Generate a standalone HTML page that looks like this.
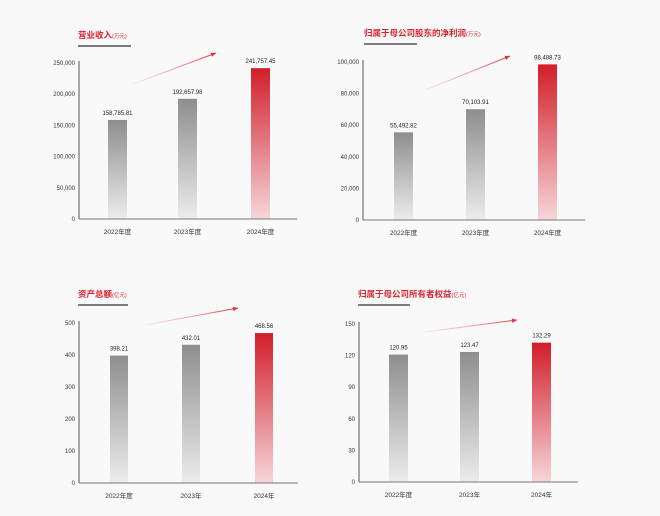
<!DOCTYPE html>
<html><head><meta charset="utf-8">
<style>
html,body{margin:0;padding:0;background:#f9f9f9;}
svg{display:block;font-family:"Liberation Sans","Noto Sans CJK SC",sans-serif;}
</style></head>
<body>
<svg id="c" width="660" height="516" viewBox="0 0 660 516">
<defs>
<linearGradient id="gGrey" x1="0" y1="0" x2="0" y2="1"><stop offset="0" stop-color="#8e8e8e"/><stop offset="1" stop-color="#ececec"/></linearGradient>
<linearGradient id="gRed" x1="0" y1="0" x2="0" y2="1"><stop offset="0" stop-color="#d21e2b"/><stop offset="1" stop-color="#f6d6d9"/></linearGradient>
<linearGradient id="gArrow" x1="0" y1="0" x2="1" y2="0"><stop offset="0" stop-color="#f4c6c9" stop-opacity="0.4"/><stop offset="1" stop-color="#e0303c"/></linearGradient>
</defs>
</svg>
<script>
const revenueValues = [158785.81, 192657.98, 241757.45];
const revenueLabels = ["158,785.81", "192,657.98", "241,757.45"];
const revenueTicks = [0, 50000, 100000, 150000, 200000, 250000];
const revenueTickLabels = ["0", "50,000", "100,000", "150,000", "200,000", "250,000"];
const revenueCats = ["2022年度", "2023年度", "2024年度"];

const profitValues = [55492.82, 70103.91, 98488.73];
const profitLabels = ["55,492.82", "70,103.91", "98,488.73"];
const profitTicks = [0, 20000, 40000, 60000, 80000, 100000];
const profitTickLabels = ["0", "20,000", "40,000", "60,000", "80,000", "100,000"];
const profitCats = ["2022年度", "2023年度", "2024年度"];

const assetValues = [398.21, 432.01, 468.56];
const assetLabels = ["398.21", "432.01", "468.56"];
const assetTicks = [0, 100, 200, 300, 400, 500];
const assetTickLabels = ["0", "100", "200", "300", "400", "500"];
const assetCats = ["2022年度", "2023年", "2024年"];

const equityValues = [120.95, 123.47, 132.29];
const equityLabels = ["120.95", "123.47", "132.29"];
const equityTicks = [0, 30, 60, 90, 120, 150];
const equityTickLabels = ["0", "30", "60", "90", "120", "150"];
const equityCats = ["2022年度", "2023年", "2024年"];

const NS = "http://www.w3.org/2000/svg";
const svg = document.getElementById('c');
function mk(tag, attrs, parent){const e=document.createElementNS(NS,tag);for(const k in attrs)e.setAttribute(k,attrs[k]);(parent||svg).appendChild(e);return e;}

function chart(o){
  const g = mk('g',{});
  
  
  const y = v => o.y0 - (v / o.max) * (o.y0 - o.yTop);
  // title
  const t = mk('text',{x:o.tx,y:o.ty,'font-size':8.5,'font-weight':'bold',fill:'#d9232f'},g);
  
  
  t.textContent = o.title;
  const ts = mk('tspan',{'font-size':5.5,'font-weight':'normal'},t); ts.textContent = o.unit;
  const ul = mk('line',{x1:o.tx,x2:o.tx+o.ulw,y1:o.ty+8,y2:o.ty+8,stroke:'#333','stroke-width':1.3},g);
  
  
  // arrow
  const ar = mk('line',{x1:o.a[0],y1:o.a[1],x2:o.a[2],y2:o.a[3],stroke:'url(#gArrow)','stroke-width':1},g);
  
  
  const ang = Math.atan2(o.a[3]-o.a[1], o.a[2]-o.a[0]);
  const hx=o.a[2],hy=o.a[3],L=5,W=2.2;
  const p = mk('polygon',{points:`${hx},${hy} ${hx-L*Math.cos(ang)+W*Math.sin(ang)},${hy-L*Math.sin(ang)-W*Math.cos(ang)} ${hx-L*Math.cos(ang)-W*Math.sin(ang)},${hy-L*Math.sin(ang)+W*Math.cos(ang)}`,fill:'#e0303c'},g);
  
  
  // ticks
  o.ticks.forEach((tv,i)=>{
    const tl = mk('text',{x:o.ax-4,y:y(tv)+2,'font-size':6,'text-anchor':'end',fill:'#333'},g);
    
    
    tl.textContent = o.tickLabels[i];
  });
  // bars
  o.values.forEach((v,i)=>{
    const bx = o.bx[i];
    const last = i === o.values.length-1;
    const r = mk('rect',{x:bx,y:y(v),width:o.bw,height:o.y0-y(v),fill:last?'url(#gRed)':'url(#gGrey)'},g);
    
    
    const vl = mk('text',{x:bx+o.bw/2,y:y(v)-5,'font-size':6,'text-anchor':'middle',fill:'#222'},g);
    
    
    vl.textContent = o.labels[i];
    const cl = mk('text',{x:bx+o.bw/2,y:o.y0+15,'font-size':6.5,'text-anchor':'middle',fill:'#333'},g);
    
    
    cl.textContent = o.cats[i];
  });
  // axes
  const ya = mk('line',{x1:o.ax,x2:o.ax,y1:o.yTop-2,y2:o.y0,stroke:'#555','stroke-width':1},g);
  
  
  const xa = mk('line',{x1:o.ax,x2:o.xEnd,y1:o.y0,y2:o.y0,stroke:'#777','stroke-width':1},g);
  
  
}

chart({name:'revenue-chart',title:'营业收入',unit:'(万元)',tx:78,ty:38,ulw:53,a:[133,84,216,53],
  ax:79,y0:219,yTop:63,max:250000,xEnd:297,bx:[108,178,251],bw:19,
  values:revenueValues,labels:revenueLabels,ticks:revenueTicks,tickLabels:revenueTickLabels,cats:revenueCats});
chart({name:'net-profit-chart',title:'归属于母公司股东的净利润',unit:'(万元)',tx:364,ty:36,ulw:53,a:[425,90,510,56],
  ax:363,y0:220,yTop:62,max:100000,xEnd:585,bx:[394,466,538],bw:19,
  values:profitValues,labels:profitLabels,ticks:profitTicks,tickLabels:profitTickLabels,cats:profitCats});
chart({name:'total-assets-chart',title:'资产总额',unit:'(亿元)',tx:78,ty:297,ulw:50,a:[145,325,238,308],
  ax:79,y0:483,yTop:323,max:500,xEnd:298,bx:[110,182,255],bw:18,
  values:assetValues,labels:assetLabels,ticks:assetTicks,tickLabels:assetTickLabels,cats:assetCats});
chart({name:'equity-chart',title:'归属于母公司所有者权益',unit:'(亿元)',tx:358,ty:297,ulw:52,a:[425,332,517,320],
  ax:359,y0:482,yTop:324,max:150,xEnd:578,bx:[389,460,532],bw:19,
  values:equityValues,labels:equityLabels,ticks:equityTicks,tickLabels:equityTickLabels,cats:equityCats});
</script>
</body></html>
